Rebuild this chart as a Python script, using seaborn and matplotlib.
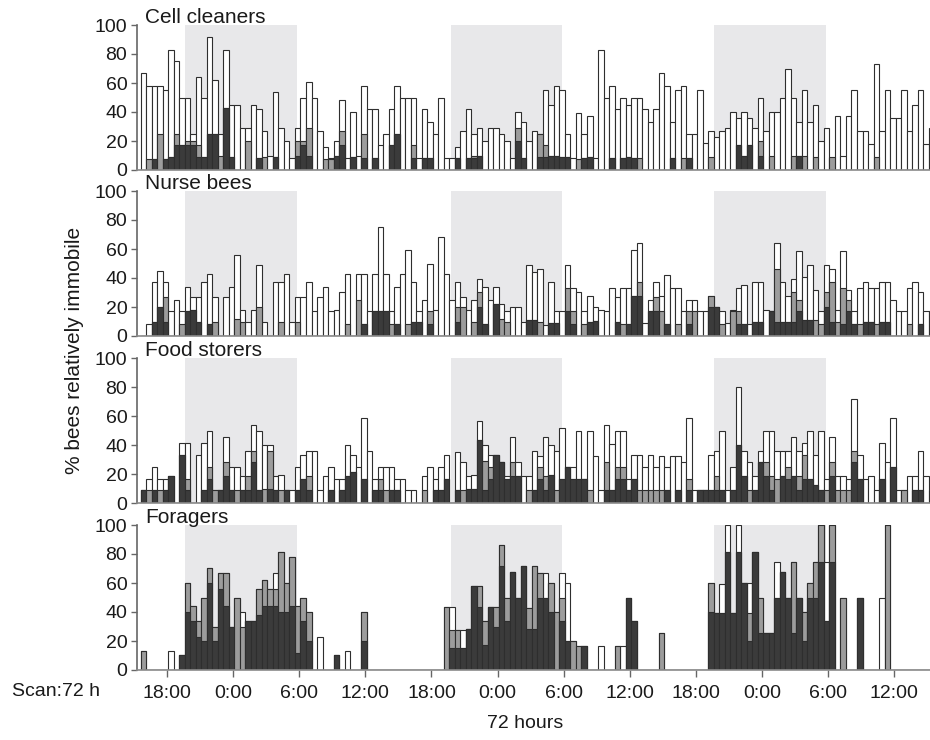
import numpy as np
import pandas as pd
import matplotlib
matplotlib.use("Agg")
import matplotlib.pyplot as plt
import seaborn as sns

sns.set_theme(style="white")
plt.rcParams['font.family'] = ['Liberation Sans', 'DejaVu Sans']

# ---------------- data (percent of bees relatively immobile, 144 half-hour scans) ----------------
# cumulative levels: black = very immobile, gray = black+middle class, total = all immobile
CC_TOTAL = [67, 58, 58, 58, 55, 83, 75, 50, 50, 25, 64, 50,
            92, 62, 25, 83, 45, 45, 29, 29, 45, 42, 27, 10,
            54, 29, 20, 8, 29, 50, 61, 50, 27, 16, 8, 20,
            48, 8, 40, 10, 58, 42, 42, 17, 25, 42, 58, 50,
            50, 50, 8, 42, 33, 25, 50, 8, 8, 16, 27, 42,
            25, 29, 20, 29, 29, 25, 20, 8, 40, 33, 20, 27,
            25, 55, 45, 58, 55, 25, 8, 39, 25, 37, 8, 83,
            50, 58, 42, 50, 45, 50, 50, 42, 33, 42, 67, 58,
            33, 55, 58, 25, 25, 55, 18.5, 27, 23, 27, 29, 40,
            36, 40, 36, 29, 50, 27, 40, 40, 50, 70, 50, 33,
            55, 33, 45, 20, 29, 8, 37, 10, 37, 55, 27, 27,
            18, 73, 27, 55, 36, 36, 55, 27, 45, 55, 18, 29]
CC_GRAY = [0, 7.5, 7.5, 25, 7.5, 8.7, 25, 17, 20, 20, 17, 8.7,
           25, 25, 10, 43, 8.7, 0, 0, 20, 0, 8, 8.7, 0,
           8.7, 0, 0, 0, 20, 20, 29, 0, 0, 7.5, 7.5, 10,
           27, 0, 8.7, 0, 25, 0, 8, 0, 0, 17, 25, 0,
           0, 17, 0, 8, 8, 0, 0, 0, 0, 8, 0, 8,
           10, 10, 0, 0, 0, 0, 0, 0, 29, 8, 0, 0,
           25, 17, 10, 9.4, 8.7, 8.7, 0, 7.5, 8, 8.7, 0, 0,
           0, 8, 0, 8, 8.7, 8, 8, 0, 0, 0, 0, 0,
           8, 0, 8, 8, 0, 0, 0, 8.7, 0, 0, 0, 0,
           17, 10, 17, 0, 20, 0, 10, 0, 0, 0, 10, 10,
           10, 0, 8.7, 0, 0, 8.7, 0, 0, 0, 0, 0, 0,
           0, 8.7, 0, 0, 0, 0, 0, 0, 0, 0, 0, 0]
CC_BLACK = [0, 0, 7.5, 0, 7.5, 8.7, 17, 17, 17, 17, 8.7, 8.7,
            25, 25, 0, 43, 8.7, 0, 0, 0, 0, 8, 0, 0,
            8.7, 0, 0, 0, 10, 17, 10, 0, 0, 0, 0, 10,
            17, 0, 8.7, 0, 8, 0, 8, 0, 0, 17, 25, 0,
            0, 8, 0, 8, 8, 0, 0, 0, 0, 8, 0, 8,
            8, 10, 0, 0, 0, 0, 0, 0, 20, 8, 0, 0,
            8.7, 8.7, 10, 9.4, 8.7, 8.7, 0, 0, 8, 8.7, 0, 0,
            0, 8, 0, 8, 8.7, 8, 0, 0, 0, 0, 0, 0,
            8, 0, 0, 8, 0, 0, 0, 0, 0, 0, 0, 0,
            17, 10, 17, 0, 10, 0, 0, 0, 0, 0, 0, 10,
            0, 0, 0, 0, 0, 0, 0, 0, 0, 0, 0, 0,
            0, 0, 0, 0, 0, 0, 0, 0, 0, 0, 0, 0]

NB_TOTAL = [0, 8.4, 37, 45, 37, 17, 25, 17, 34, 27, 27, 37,
            43, 27, 0, 27, 34, 56, 18, 10, 18, 49, 10, 0,
            37, 37, 43, 10, 27, 27, 37, 17, 27, 34, 17, 18,
            30.6, 43, 0, 43, 43, 17, 43, 75, 43, 17, 34, 43,
            59, 37, 17, 25, 50, 18, 68, 43, 25, 37, 27, 18,
            25, 39, 34, 25, 34, 22, 17, 20, 20, 10, 49, 44,
            46, 7.7, 37, 17.5, 17.5, 49, 33, 30.6, 17.5, 27.6, 20, 18,
            17, 33, 27, 33, 33, 59, 64, 8.9, 25, 37, 27.6, 42,
            33, 33, 17, 25, 25, 17, 17, 27.6, 20, 17, 9, 18,
            33, 35, 8.4, 37, 37, 18, 17, 64, 37, 27.6, 39, 58.6,
            41, 49, 31.5, 17, 49, 46, 18, 58.6, 31.5, 17, 33, 37,
            33, 33, 37, 37, 25, 17, 17, 33, 37, 30.6, 17, 17]
NB_GRAY = [0, 0, 10, 20, 27, 0, 0, 8.4, 17, 18, 10, 0,
           8.4, 10, 0, 0, 0, 11.7, 10, 0, 0, 20, 0, 0,
           0, 10, 0, 0, 10, 0, 0, 0, 0, 0, 0, 0,
           0, 8.4, 0, 25, 8.4, 0, 17, 17, 17, 8.4, 8.4, 0,
           8.4, 10, 10, 0, 17, 0, 0, 0, 0, 20, 20, 0,
           10, 30.6, 8.4, 0, 22, 11.7, 10, 0, 0, 0, 11, 11,
           10, 0, 9.3, 9.3, 0, 33.4, 17, 0, 8.4, 10, 10.5, 0,
           0, 0, 10, 8.4, 8.4, 27.6, 37, 0, 17.5, 27, 17.5, 8.4,
           0, 8.4, 0, 17, 17, 0, 0, 27.6, 20, 8.4, 0, 17,
           17, 8.4, 0, 10, 10, 0, 17, 46, 10, 10, 30.6, 25,
           11, 11, 11, 8.4, 30.6, 37, 10, 33.4, 25, 8.4, 8.4, 10,
           10, 8.4, 10, 10, 0, 0, 0, 8.4, 0, 8.4, 0, 0]
NB_BLACK = [0, 0, 10, 20, 10, 0, 0, 0, 17, 18, 10, 0,
            8.4, 0, 0, 0, 0, 0, 0, 0, 0, 0, 0, 0,
            0, 0, 0, 0, 0, 0, 0, 0, 0, 0, 0, 0,
            0, 0, 0, 0, 8.4, 0, 17, 17, 17, 0, 8.4, 0,
            0, 10, 10, 0, 8.4, 0, 0, 0, 0, 10, 0, 0,
            0, 20, 8.4, 0, 22, 0, 0, 0, 0, 0, 11, 11,
            0, 0, 9.3, 9.3, 0, 17, 8.4, 0, 0, 10, 10.5, 0,
            0, 0, 10, 0, 8.4, 27.6, 27.6, 0, 17.5, 17.5, 0, 8.4,
            0, 0, 0, 8.4, 0, 0, 0, 20, 20, 0, 0, 0,
            8.4, 8.4, 0, 10, 10, 0, 17, 10, 10, 10, 10, 17,
            11, 11, 0, 0, 20, 10, 0, 8.4, 17, 8.4, 0, 10,
            10, 0, 10, 10, 0, 0, 0, 0, 0, 8.4, 0, 0]

FS_TOTAL = [8.9, 16.4, 24.5, 16.4, 16.4, 18.7, 0, 41.6, 41.6, 0, 33.2, 41.6,
            49.5, 8.9, 8.9, 45.6, 24.5, 24.5, 18.7, 36.2, 53.7, 49.5, 40.2, 40.2,
            18.7, 19.2, 8.9, 8.9, 24.5, 33.2, 36.2, 36.2, 8.9, 18.7, 24.5, 16.4,
            16.4, 40.2, 33.2, 24.5, 58.4, 36.2, 16.4, 24.5, 24.5, 24.5, 16.4, 16.4,
            8.9, 8.9, 0, 18.7, 24.5, 16.4, 24.5, 33.2, 0, 35, 28, 18.7,
            19.2, 56.5, 40.2, 33.2, 33.2, 28, 18.7, 45.6, 28, 18.7, 18.7, 36.2,
            32.2, 45.6, 40.2, 36.2, 51.9, 24.5, 24.5, 49.5, 16.4, 49.5, 32.7, 8.9,
            53.7, 40.9, 49.5, 49.5, 16.4, 33.2, 33.2, 24.5, 33.2, 24.5, 32.7, 24.5,
            32.7, 32.7, 28, 58.4, 8.9, 8.9, 8.9, 33.2, 36.2, 49.5, 8.9, 24.5,
            80, 36.2, 28, 18.7, 36.2, 49.5, 49.5, 36.2, 36.2, 36.2, 45.6, 36.2,
            41.4, 49.5, 33.2, 49.5, 16.4, 45.6, 18.7, 18.7, 16.4, 71.7, 33.2, 16.4,
            18.7, 8.9, 41.4, 28, 58.4, 8.9, 8.9, 18.7, 18.7, 36.2, 18.7, 8.9]
FS_GRAY = [8.9, 8.9, 8.9, 8.9, 8.9, 18.7, 0, 33.2, 16.4, 0, 0, 8.9,
           24.5, 8.9, 8.9, 28, 8.9, 8.9, 8.9, 18.7, 36.2, 8.9, 9.8, 36.2,
           8.9, 8.9, 8.9, 0, 8.9, 16.4, 18.7, 0, 0, 0, 8.9, 0,
           8.9, 18.7, 21.5, 0, 16.4, 0, 8.9, 16.4, 8.9, 8.9, 8.9, 0,
           0, 0, 0, 8.9, 0, 8.9, 8.9, 16.4, 0, 8.9, 8.9, 9.8,
           9.8, 43.2, 29.2, 24.5, 33.2, 28, 16.4, 28, 18.7, 0, 8.9, 8.9,
           24.5, 18.7, 19.2, 8.9, 16.4, 24.5, 16.4, 16.4, 16.4, 8.9, 0, 0,
           28, 8.9, 24.5, 24.5, 8.9, 16.4, 8.9, 8.9, 8.9, 8.9, 8.9, 8.9,
           0, 8.9, 0, 16.4, 0, 8.9, 8.9, 8.9, 18.7, 8.9, 0, 8.9,
           40.2, 18.7, 8.9, 8.9, 28, 28, 18.7, 16.4, 18.7, 24.5, 18.7, 18.7,
           33.2, 16.4, 12.1, 8.9, 8.9, 28, 8.9, 8.9, 8.9, 36.2, 16.4, 0,
           0, 0, 16.4, 0, 24.5, 0, 8.9, 0, 8.9, 8.9, 0, 0]
FS_BLACK = [8.9, 0, 8.9, 0, 8.9, 18.7, 0, 33.2, 8.9, 0, 0, 8.9,
            16.4, 0, 8.9, 18.7, 8.9, 0, 8.9, 8.9, 28, 8.9, 0, 9.8,
            8.9, 0, 8.9, 0, 8.9, 16.4, 8.9, 0, 0, 0, 8.9, 0,
            8.9, 18.7, 21.5, 0, 16.4, 0, 8.9, 8.9, 0, 8.9, 8.9, 0,
            0, 0, 0, 0, 0, 8.9, 8.9, 16.4, 0, 8.9, 0, 9.8,
            9.8, 43.2, 8.9, 16.4, 33.2, 28, 16.4, 18.7, 18.7, 0, 0, 8.9,
            16.4, 8.9, 19.2, 0, 16.4, 24.5, 16.4, 16.4, 16.4, 0, 0, 0,
            8.9, 8.9, 16.4, 16.4, 8.9, 16.4, 0, 0, 0, 0, 0, 8.9,
            0, 8.9, 0, 8.9, 0, 8.9, 8.9, 8.9, 8.9, 8.9, 0, 8.9,
            40.2, 18.7, 0, 8.9, 28, 18.7, 8.9, 0, 18.7, 16.4, 18.7, 8.9,
            16.4, 16.4, 12.1, 8.9, 0, 18.7, 0, 0, 0, 28, 16.4, 0,
            0, 0, 16.4, 0, 24.5, 0, 0, 0, 8.9, 8.9, 0, 0]

FG_TOTAL = [13.1, 0, 0, 0, 0, 13.1, 0, 10.3, 60.1, 44.1, 33.8, 49.5,
            70.4, 30, 67.1, 67.1, 30, 49.5, 40.1, 33.8, 33.8, 55.9, 62, 55.9,
            67.1, 81.2, 60.1, 78.2, 44.1, 49.5, 40.1, 0, 22.5, 0, 0, 10.3,
            0, 13.1, 0, 0, 40.1, 0, 0, 0, 0, 0, 0, 0,
            0, 0, 0, 0, 0, 0, 0, 43.2, 43.2, 27.7, 27.7, 28.4,
            58.2, 58.2, 33.8, 43.2, 43.2, 86.4, 49.5, 67.6, 49.5, 71.8, 42.5, 71.8,
            67.1, 67.1, 60.1, 40.1, 67.1, 60.1, 20.2, 16.7, 16.7, 0, 0, 16.7,
            0, 0, 16.7, 16.7, 49.5, 33.8, 0, 0, 0, 0, 25.4, 0,
            0, 0, 0, 0, 0, 0, 0, 60.1, 39.3, 59.6, 100, 39.3,
            100, 60.1, 60.1, 81.2, 49.5, 25.4, 25.4, 74.6, 67.6, 49.5, 74.6, 49.5,
            40.1, 60.1, 74.6, 100, 74.6, 100, 0, 49.5, 0, 0, 49.5, 0,
            0, 0, 49.5, 100, 0, 0, 0, 0, 0, 0, 0, 0]
FG_GRAY = [13.1, 0, 0, 0, 0, 0, 0, 10.3, 60.1, 44.1, 33.8, 49.5,
           70.4, 30, 67.1, 67.1, 30, 49.5, 30, 33.8, 33.8, 55.9, 62, 55.9,
           55.9, 81.2, 60.1, 78.2, 44.1, 49.5, 40.1, 0, 0, 0, 0, 10.3,
           0, 0, 0, 0, 40.1, 0, 0, 0, 0, 0, 0, 0,
           0, 0, 0, 0, 0, 0, 0, 43.2, 27.7, 27.7, 15, 28.4,
           58.2, 58.2, 33.8, 43.2, 43.2, 86.4, 49.5, 67.6, 49.5, 71.8, 42.5, 71.8,
           67.1, 49.5, 60.1, 40.1, 49.5, 20.2, 20.2, 16.7, 16.7, 0, 0, 0,
           0, 0, 16.7, 0, 49.5, 33.8, 0, 0, 0, 0, 25.4, 0,
           0, 0, 0, 0, 0, 0, 0, 60.1, 39.3, 39.3, 81.2, 39.3,
           81.2, 60.1, 39.3, 81.2, 49.5, 25.4, 25.4, 49.5, 67.6, 49.5, 74.6, 49.5,
           40.1, 60.1, 74.6, 100, 33.8, 100, 0, 49.5, 0, 0, 49.5, 0,
           0, 0, 0, 100, 0, 0, 0, 0, 0, 0, 0, 0]
FG_BLACK = [0, 0, 0, 0, 0, 0, 0, 10.3, 40.1, 33.8, 22.5, 20.2,
            60.1, 20.2, 55.9, 44.1, 30, 0, 0, 33.8, 33.8, 37.8, 44.1, 44.1,
            44.1, 40.1, 40.1, 44.1, 12, 33.8, 20.2, 0, 0, 0, 0, 10.3,
            0, 0, 0, 0, 20.2, 0, 0, 0, 0, 0, 0, 0,
            0, 0, 0, 0, 0, 0, 0, 0, 15, 15, 15, 28.4,
            58.2, 43.7, 17.4, 43.2, 29.6, 71.8, 33.8, 67.6, 49.5, 71.8, 28.4, 28.4,
            49.5, 49.5, 40.1, 0, 33.8, 20.2, 0, 0, 16.7, 0, 0, 0,
            0, 0, 0, 0, 49.5, 33.8, 0, 0, 0, 0, 0, 0,
            0, 0, 0, 0, 0, 0, 0, 40.1, 39.3, 39.3, 81.2, 39.3,
            81.2, 60.1, 20.2, 81.2, 25.4, 25.4, 25.4, 49.5, 67.6, 49.5, 25.4, 49.5,
            20.2, 49.5, 49.5, 74.6, 33.8, 74.6, 0, 0, 0, 0, 49.5, 0,
            0, 0, 0, 0, 0, 0, 0, 0, 0, 0, 0, 0]

PANELS = ["Cell cleaners", "Nurse bees", "Food storers", "Foragers"]
TICK_LABELS = ["18:00", "0:00", "6:00", "12:00"] * 3
NIGHTS = [(7.54, 27.8), (55.76, 75.9), (103.55, 123.9)]   # shaded dark periods, in scan units

series = [(CC_TOTAL, CC_GRAY, CC_BLACK), (NB_TOTAL, NB_GRAY, NB_BLACK),
          (FS_TOTAL, FS_GRAY, FS_BLACK), (FG_TOTAL, FG_GRAY, FG_BLACK)]
for s in series:
    for arr in s:
        if len(arr) != 144:
            raise ValueError(f"bad length {len(arr)}")

# ---------------- figure ----------------
W, H = 930, 740
fig = plt.figure(figsize=(W / 100, H / 100), dpi=100)
left = 137 / W
width = (930 - 137) / W
zero_y = [170, 336, 503, 670]
ph = 145

EDGE = "#2e2e2e"
for k, (name, (tot, gry, blk)) in enumerate(zip(PANELS, series)):
    bottom = 1 - zero_y[k] / H
    ax = fig.add_axes([left, bottom, width, ph / H])
    df = pd.DataFrame({"slot": np.arange(144), "total": tot, "gray": gry, "black": blk})
    for (x0, x1) in NIGHTS:
        ax.axvspan(x0, x1, color="#e8e8ea", zorder=0, lw=0)
    for col, fc in [("total", "white"), ("gray", "#9c9c9c"), ("black", "#3b3b3b")]:
        sns.barplot(data=df, x="slot", y=col, native_scale=True, width=1.0,
                    color=fc, saturation=1, edgecolor=EDGE, linewidth=0.8,
                    errorbar=None, ax=ax, zorder=2)
    ax.set_xlim(-1.17, 142.75)
    ax.set_ylim(0, 100)
    ax.set_yticks([0, 20, 40, 60, 80, 100])
    ax.set_yticklabels(["0", "20", "40", "60", "80", "100"])
    ax.tick_params(axis="y", direction="out", length=4, width=1, color="#666666",
                   labelsize=14, pad=3, labelcolor="#1a1a1a", left=True)
    ax.set_ylabel("")
    ax.set_xlabel("")
    for sp in ["top", "right"]:
        ax.spines[sp].set_visible(False)
    ax.spines["left"].set_color("#666666")
    ax.spines["left"].set_linewidth(1.2)
    ax.spines["bottom"].set_color("#8a8a8a")
    ax.spines["bottom"].set_linewidth(1.2)
    ax.set_facecolor("none")
    ax.text(0.01, 1.015, name, transform=ax.transAxes, fontsize=15,
            ha="left", va="baseline", color="#1a1a1a")
    if k == 3:
        ax.set_xticks([4.27 + 12 * i for i in range(12)])
        ax.set_xticklabels(TICK_LABELS)
        ax.tick_params(axis="x", direction="out", length=5, width=1, color="#666666",
                       labelsize=14, pad=6, labelcolor="#1a1a1a", bottom=True)
    else:
        ax.set_xticks([])

fig.text(12 / W, 1 - 691 / H, "Scan:72 h", fontsize=14, ha="left", va="center", color="#1a1a1a")
fig.text(525 / W, 1 - 724 / H, "72 hours", fontsize=14, ha="center", va="center", color="#1a1a1a")
fig.text(75 / W, 1 - 350 / H, "% bees relatively immobile", fontsize=15, rotation=90,
         ha="center", va="center", color="#1a1a1a")

fig.savefig("out.png", dpi=100)
